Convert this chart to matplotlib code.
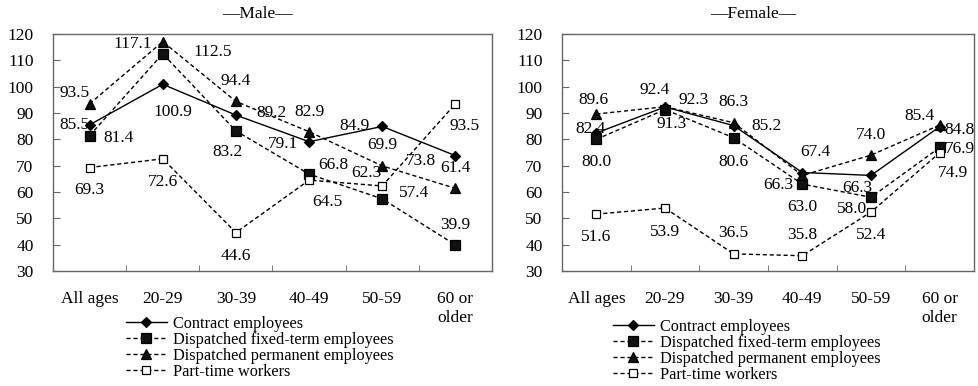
import matplotlib
matplotlib.use("Agg")
import matplotlib.pyplot as plt
import numpy as np

plt.rcParams['font.family'] = ['Liberation Serif', 'DejaVu Serif']

categories = ["All ages", "20-29", "30-39", "40-49", "50-59", "60 or\nolder"]
series_names = ["Contract employees", "Dispatched fixed-term employees",
                "Dispatched permanent employees", "Part-time workers"]

male_contract = [85.5, 100.9, 89.2, 79.1, 84.9, 73.8]
male_fixed = [81.4, 112.5, 83.2, 66.8, 57.4, 39.9]
male_perm = [93.5, 117.1, 94.4, 82.9, 69.9, 61.4]
male_part = [69.3, 72.6, 44.6, 64.5, 62.3, 93.5]

female_contract = [82.4, 92.3, 85.2, 67.4, 66.3, 84.8]
female_fixed = [80.0, 91.3, 80.6, 63.0, 58.0, 76.9]
female_perm = [89.6, 92.4, 86.3, 66.3, 74.0, 85.4]
female_part = [51.6, 53.9, 36.5, 35.8, 52.4, 74.9]

y_ticks = [30, 40, 50, 60, 70, 80, 90, 100, 110, 120]

# label offsets in pixels (dx, dy; dy positive = down)
male_offsets = [
    [(-15, 0), (10, 28), (36, -2), (-26, 2), (-28, 0), (-34, 5)],
    [(29, 2), (50, -2), (-8, 21), (24, -9), (32, -6), (0, -20)],
    [(-15, -11), (-30, 2), (0, -20), (0, -20), (0, -21), (0, -20)],
    [(0, 22), (0, 23), (0, 23), (18, 22), (-16, -13), (9, 22)],
]
female_offsets = [
    [(-6, -4), (29, -7), (33, 0), (13, -21), (-14, 13), (20, 3)],
    [(0, 23), (7, 14), (0, 24), (0, 23), (-19, 12), (20, 2)],
    [(-3, -14), (-10, -17), (0, -21), (-24, 10), (0, -20), (-20, -9)],
    [(0, 23), (0, 24), (0, -21), (0, -21), (0, 23), (13, 20)],
]

styles = [
    dict(linestyle='-', marker='D', markersize=5, markerfacecolor='black'),
    dict(linestyle=(0, (3, 2)), marker='s', markersize=7, markerfacecolor='#111111'),
    dict(linestyle=(0, (3, 2)), marker='^', markersize=7, markerfacecolor='#111111'),
    dict(linestyle=(0, (3, 2)), marker='s', markersize=6, markerfacecolor='white'),
]

fig = plt.figure(figsize=(9.79, 3.86), dpi=100)
W, H = 979, 386
ax_l = fig.add_axes([53 / W, 1 - 271 / H, 439 / W, 237 / H])
ax_r = fig.add_axes([562 / W, 1 - 271 / H, 412 / W, 237 / H])

FS = 12.5
panels = [
    (ax_l, [male_contract, male_fixed, male_perm, male_part], male_offsets,
     "\u2014Male\u2014", 257, (126, 316)),
    (ax_r, [female_contract, female_fixed, female_perm, female_part], female_offsets,
     "\u2014Female\u2014", 753, (613, 319)),
]

x = np.arange(len(categories))
for ax, data, offsets, title, tx, legpos in panels:
    handles = []
    for vals, st, offs, name in zip(data, styles, offsets, series_names):
        h, = ax.plot(x, vals, color='black', linewidth=1.0,
                     markeredgecolor='black', markeredgewidth=0.9,
                     label=name, **st)
        handles.append(h)
        for xi, v, (dx, dy) in zip(x, vals, offs):
            ax.annotate(f"{v:.1f}", (xi, v), xytext=(dx, -dy),
                        textcoords='offset pixels', ha='center', va='center',
                        fontsize=FS, color='black')
    ax.set_xlim(-0.5, len(categories) - 0.5)
    ax.set_ylim(30, 120)
    ax.set_yticks(y_ticks)
    ax.set_yticklabels([str(t) for t in y_ticks], fontsize=FS)
    ax.tick_params(axis='y', direction='in', length=5, pad=14, color='#666666')
    ax.set_xticks(x)
    ax.set_xticklabels(categories, fontsize=FS, linespacing=1.2)
    ax.tick_params(axis='x', which='major', length=0, pad=14.5)
    ax.set_xticks(np.arange(0.5, len(categories) - 1, 1.0), minor=True)
    ax.tick_params(axis='x', which='minor', direction='in', length=4, color='#666666')
    for sp in ax.spines.values():
        sp.set_color('#666666')
        sp.set_linewidth(1.0)
    fig.text(tx / W, 1 - 14 / H, title, ha='center', va='center', fontsize=FS)
    leg = fig.legend(handles=handles, loc='upper left',
                     bbox_to_anchor=(legpos[0] / W, 1 - legpos[1] / H),
                     frameon=False, fontsize=11.7, numpoints=1,
                     handlelength=2.5, handletextpad=0.4, labelspacing=0.0,
                     borderpad=0, borderaxespad=0)

fig.savefig("out.png", dpi=100)
